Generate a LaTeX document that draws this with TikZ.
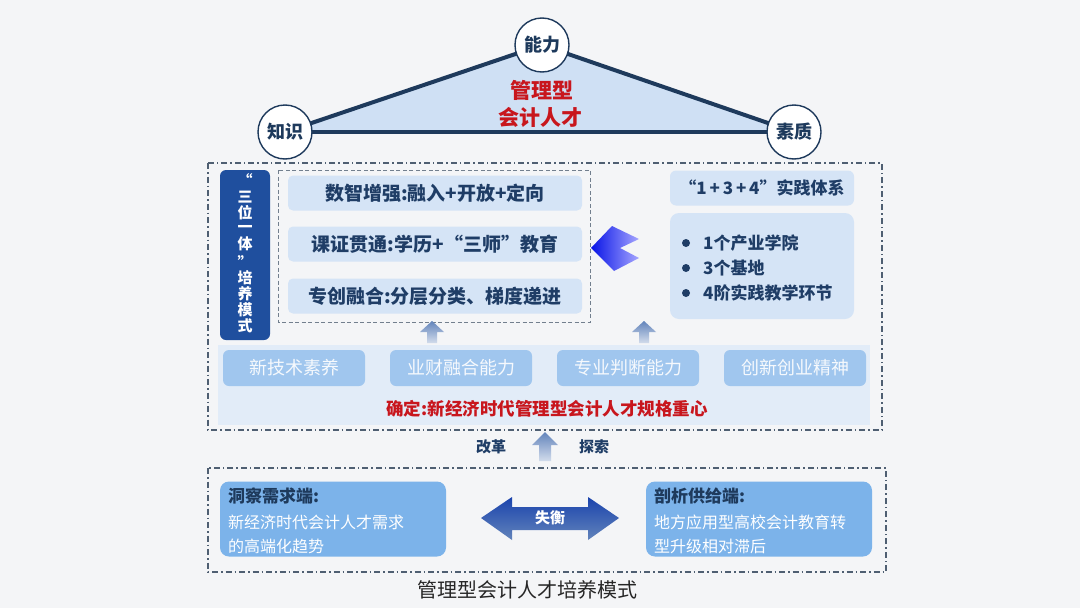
\documentclass[tikz,border=0pt]{standalone}
\usepackage{fontspec}
\setmainfont{Noto Sans CJK SC}
\usetikzlibrary{calc}
\definecolor{bg}{HTML}{F4F5F7}
\definecolor{navy}{HTML}{1E3A5C}
\definecolor{tri}{HTML}{CFE0F4}
\definecolor{redt}{HTML}{C8161D}
\definecolor{pale}{HTML}{D5E4F6}
\definecolor{band}{HTML}{E2ECF8}
\definecolor{mid}{HTML}{A0C6EE}
\definecolor{low}{HTML}{7CB3EA}
\definecolor{dblue}{HTML}{1F4F9E}
\definecolor{frame}{HTML}{4F5F72}
\definecolor{txt}{HTML}{1F3D66}
\tikzset{
  x=1pt,y=-1pt,
  circ/.style={circle,draw=navy,line width=1.4pt,fill=white,minimum size=54pt,inner sep=0pt,font=\fontsize{18}{18}\selectfont\bfseries,text=navy},
  ddframe/.style={draw=frame,line width=1.2pt,dash pattern=on 6pt off 3pt on 1.5pt off 3pt},
  dframe/.style={draw=frame!80,line width=1pt,dash pattern=on 4pt off 2.5pt},
  rowbox/.style={fill=pale,rounded corners=5pt,minimum width=294pt,minimum height=35pt,inner sep=0pt,font=\fontsize{19}{19}\selectfont\bfseries,text=txt},
  abil/.style={fill=mid,rounded corners=6pt,minimum width=142pt,minimum height=36pt,inner sep=0pt,font=\fontsize{18}{18}\selectfont,text=white!90!mid},
  lowbox/.style={fill=low,rounded corners=9pt,minimum width=226pt,minimum height=75pt,inner sep=0pt},
  smallup/.style={top color=dblue!70!white,bottom color=white!80!dblue},
  vch/.style={inner sep=0pt,text=white,font=\fontsize{15}{15}\selectfont\bfseries},
}
\begin{document}
\begin{tikzpicture}
\useasboundingbox (0,0) rectangle (1080,608);
\fill[bg] (0,0) rectangle (1080,608);

% triangle
\coordinate (cz) at (285,132);
\coordinate (cn) at (542,45);
\coordinate (cs) at (794,132);
\fill[tri] (cz) -- (cn) -- (cs) -- cycle;
\draw[navy,line width=4pt] (cz) -- (cn);
\draw[navy,line width=4pt] (cn) -- (cs);
\draw[navy,line width=4pt] (cz) -- (cs);
\node[circ] (zs) at (cz) {知识};
\node[circ] (nl) at (cn) {能力};
\node[circ] (sz) at (cs) {素质};
\node[font=\fontsize{21}{21}\selectfont\bfseries,text=redt] (t1) at (542,90) {管理型};
\node[font=\fontsize{21}{21}\selectfont\bfseries,text=redt] (t2) at (540,117) {会计人才};

% upper frame
\draw[ddframe] (208,163) rectangle (882,430);
\node[fill=dblue,rounded corners=6pt,minimum width=50pt,minimum height=170pt,inner sep=0pt] (tri1) at (245,255) {};
\node[vch] at (245,180) {“};
\foreach \yy/\cc in {197/三,213/位,229/一,244/体,278/培,294/养,310/模,326/式}{
  \node[vch] at (245,\yy) {\cc};
}
\node[vch] at (245,262) {”};
\draw[dframe] (278,170) rectangle (590,322);
\node[rowbox] (r1) at (435,193) {数智增强:融入+开放+定向};
\node[rowbox] (r2) at (435,244) {课证贯通:学历+“三师”教育};
\node[rowbox] (r3) at (435,296) {专创融合:分层分类、梯度递进};

\node[fill=pale,rounded corners=6pt,minimum width=184pt,minimum height=35pt,inner sep=0pt,
  font=\fontsize{17}{17}\selectfont\bfseries,text=txt] (p0) at (762,188) {“1\,+\,3\,+\,4”实践体系};
\node[fill=pale,rounded corners=9pt,minimum width=184pt,minimum height=106pt,inner sep=0pt] (p1) at (762,266) {};
\foreach \yy/\tt in {243/1个产业学院,268/3个基地,293/4阶实践教学环节}{
  \fill[txt] (686,\yy) circle (4pt);
  \node[anchor=west,inner sep=0pt,font=\fontsize{17}{17}\selectfont\bfseries,text=txt] at (703,\yy) {\tt};
}
% left pointing arrow
\shade[left color=blue!75!dblue,right color=blue!35!white]
  (591,248) -- (612,226) -- (639,239) -- (620,248) -- (639,258) -- (614,271) -- cycle;

% small up arrows
\foreach \cx in {432,644}{
  \shade[smallup] (\cx,321) -- (\cx+12,332) -- (\cx+5,332) -- (\cx+5,343) -- (\cx-5,343) -- (\cx-5,332) -- (\cx-12,332) -- cycle;
}

% band
\fill[band] (218,345) rectangle (870,425);
\node[abil] (a1) at (294,368) {新技术素养};
\node[abil] (a2) at (461,368) {业财融合能力};
\node[abil] (a3) at (628,368) {专业判断能力};
\node[abil] (a4) at (795,368) {创新创业精神};
\node[font=\fontsize{17.5}{17.5}\selectfont\bfseries,text=redt] (qd) at (547,409) {确定:新经济时代管理型会计人才规格重心};

% reform arrow
\node[font=\fontsize{15}{15}\selectfont\bfseries,text=txt] (gg) at (491,447) {改革};
\node[font=\fontsize{15}{15}\selectfont\bfseries,text=txt] (ts) at (594,447) {探索};
\shade[smallup] (545,432) -- (558,445) -- (551,445) -- (551,461) -- (539,461) -- (539,445) -- (532,445) -- cycle;

% lower frame
\draw[ddframe] (208,468) rectangle (886,572);
\node[lowbox] (L) at (333,519) {};
\node[anchor=west,inner sep=0pt,font=\fontsize{17}{17}\selectfont\bfseries,text=navy] at (228,496) {洞察需求端:};
\node[anchor=west,inner sep=0pt,font=\fontsize{16}{16}\selectfont,text=white] at (228,522) {新经济时代会计人才需求};
\node[anchor=west,inner sep=0pt,font=\fontsize{16}{16}\selectfont,text=white] at (228,546) {的高端化趋势};
\node[lowbox] (R) at (759,519) {};
\node[anchor=west,inner sep=0pt,font=\fontsize{17}{17}\selectfont\bfseries,text=navy] at (654,496) {剖析供给端:};
\node[anchor=west,inner sep=0pt,font=\fontsize{16}{16}\selectfont,text=white] at (654,522) {地方应用型高校会计教育转};
\node[anchor=west,inner sep=0pt,font=\fontsize{16}{16}\selectfont,text=white] at (654,546) {型升级相对滞后};
\shade[top color=dblue!85!blue,bottom color=dblue!70!white]
  (481,518) -- (512,497) -- (512,507) -- (588,507) -- (588,497) -- (619,518) -- (588,540) -- (588,530) -- (512,530) -- (512,540) -- cycle;
\node[font=\fontsize{15}{15}\selectfont\bfseries,text=white] (sh) at (550,518) {失衡};

\node[font=\fontsize{20}{20}\selectfont,text=black!85] (cap) at (527,590) {管理型会计人才培养模式};
\end{tikzpicture}
\end{document}
